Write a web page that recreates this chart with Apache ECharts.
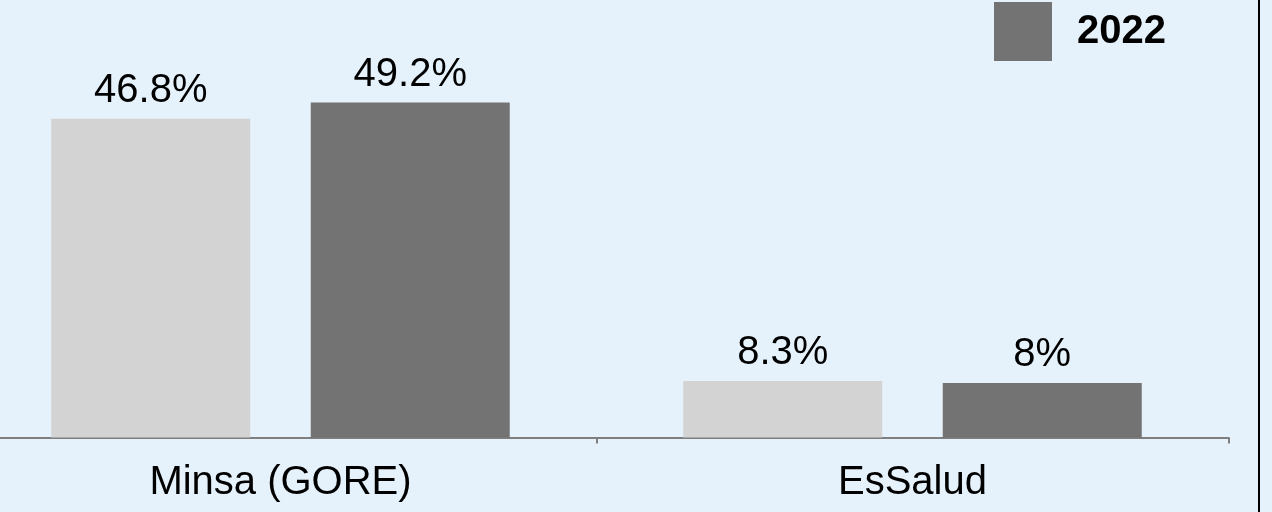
<!DOCTYPE html>
<html>
<head>
<meta charset="utf-8">
<script src="https://cdn.jsdelivr.net/npm/echarts@6/dist/echarts.min.js"></script>
<style>
html,body{margin:0;padding:0;background:#e6f2fb;overflow:hidden;}
#chart{width:1308px;height:512px;margin-left:-36px;}
</style>
</head>
<body>
<div id="chart"></div>
<script>
const categories = ['Minsa (GORE)', 'EsSalud'];
const seriesNames = ['2021', '2022'];
const values2021 = [46.8, 8.3];
const values2022 = [49.2, 8];
const legendItems = ['2022'];

const SHIFT = 36; // the chart's left part lies outside the visible frame
const chart = echarts.init(document.getElementById('chart'));
const font = 'Liberation Sans, Arial, sans-serif';
const labelStyle = {
  show: true,
  position: 'top',
  distance: 8,
  color: '#000',
  fontFamily: font,
  fontSize: 40,
  formatter: p => p.value + '%'
};
chart.setOption({
  backgroundColor: '#e6f2fb',
  animation: false,
  legend: {
    data: legendItems,
    left: 994 + SHIFT,
    top: 2,
    padding: 0,
    itemWidth: 58,
    itemHeight: 59,
    icon: 'rect',
    textStyle: {
      fontFamily: font,
      fontSize: 40,
      fontWeight: 'bold',
      color: '#000',
      padding: [0, 0, 0, 20]
    }
  },
  grid: {
    left: 0.5,
    width: 1264,
    top: 29,
    height: 408.5,
    containLabel: false
  },
  xAxis: {
    type: 'category',
    data: categories,
    axisLine: { lineStyle: { color: '#7f7f7f', width: 2 } },
    axisTick: { show: true, length: 6, lineStyle: { color: '#7f7f7f', width: 2 } },
    axisLabel: {
      color: '#000',
      fontFamily: font,
      fontSize: 40,
      margin: 25
    }
  },
  yAxis: {
    type: 'value',
    min: 0,
    max: 60,
    show: false,
    splitLine: { show: false }
  },
  graphic: [{
    type: 'line',
    shape: { x1: 1259 + SHIFT, y1: 0, x2: 1259 + SHIFT, y2: 512 },
    style: { stroke: '#000', lineWidth: 2 }
  }],
  series: [
    {
      name: seriesNames[0],
      type: 'bar',
      data: values2021,
      barWidth: 199,
      barGap: '30.4%',
      itemStyle: { color: '#d3d3d3' },
      label: labelStyle
    },
    {
      name: seriesNames[1],
      type: 'bar',
      data: values2022,
      barWidth: 199,
      barGap: '30.4%',
      itemStyle: { color: '#737373' },
      label: labelStyle
    }
  ]
});
</script>
</body>
</html>
